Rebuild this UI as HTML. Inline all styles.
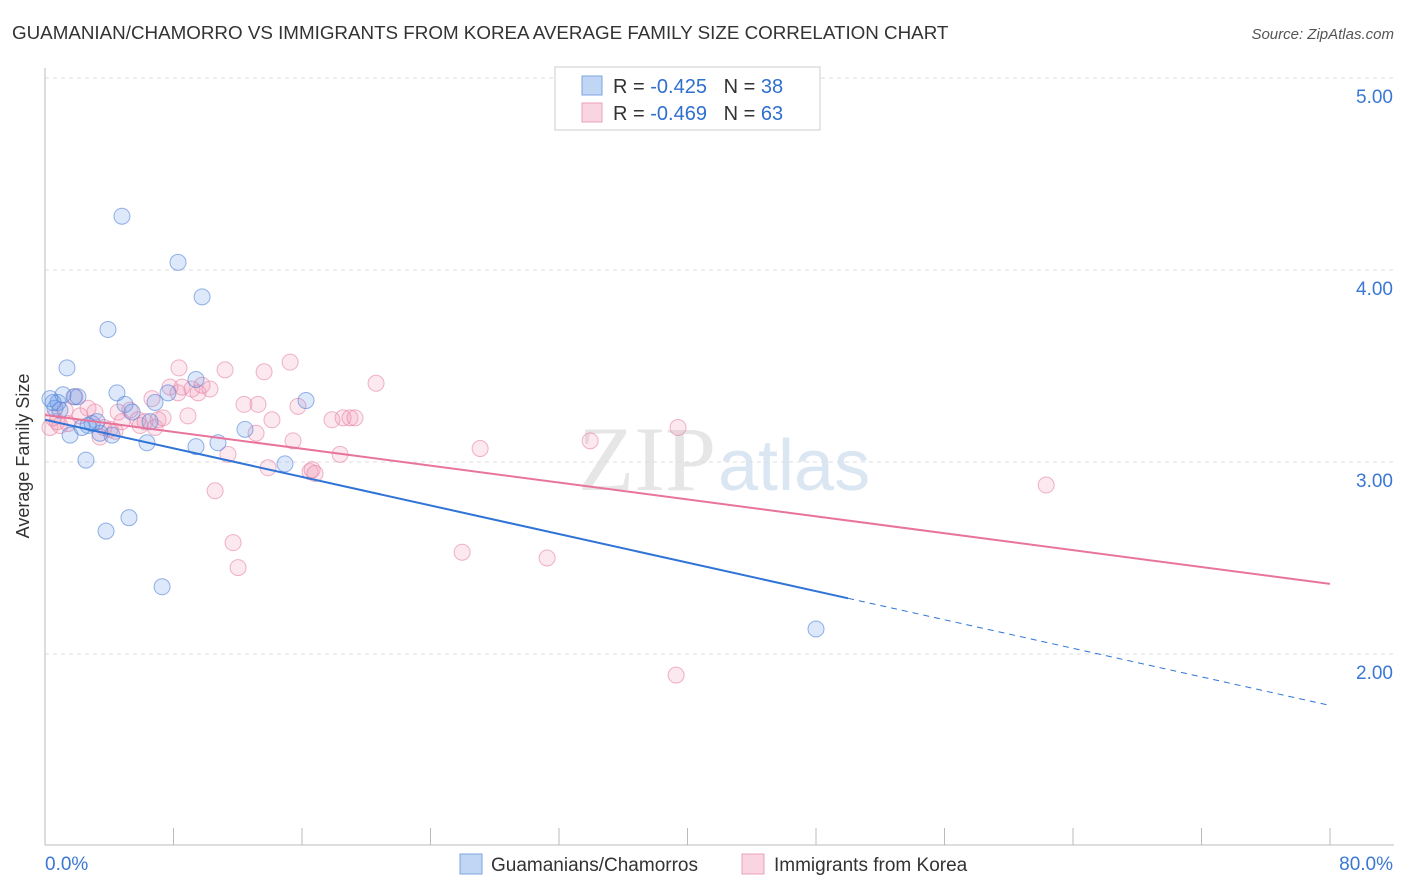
<!DOCTYPE html>
<html><head><meta charset="utf-8">
<style>
body{margin:0;background:#fff;font-family:"Liberation Sans",sans-serif;}
svg{display:block}
</style></head>
<body>
<svg id="chart" width="1406" height="892">
<text x="12" y="39" font-size="18.8" fill="#333">GUAMANIAN/CHAMORRO VS IMMIGRANTS FROM KOREA AVERAGE FAMILY SIZE CORRELATION CHART</text>
<text x="1394" y="39" font-size="15" fill="#555" font-style="italic" text-anchor="end">Source: ZipAtlas.com</text>
<text x="716" y="490" font-size="92" fill="#e6e6e6" text-anchor="end" font-family="Liberation Serif,serif">ZIP</text>
<text x="718" y="490" font-size="72" fill="#dbe6f3">atlas</text>
<g id="grid"></g>
<g id="axes"></g>
<g id="pts"></g>
<g id="trend"></g>
<text x="29" y="456" font-size="18" fill="#333" text-anchor="middle" transform="rotate(-90 29 456)">Average Family Size</text>
<g>
<rect x="555" y="67" width="265" height="63" fill="#fff" stroke="#ccc"/>
<rect x="582" y="76" width="20" height="19" fill="rgba(100,150,230,0.4)" stroke="#7aa6e0"/>
<rect x="582" y="103" width="20" height="19" fill="rgba(240,150,180,0.4)" stroke="#eea0b8"/>
<text x="613" y="93" font-size="20" fill="#333">R = <tspan fill="#2f6fd0">-0.425</tspan>&#160;&#160;&#160;N = <tspan fill="#2f6fd0">38</tspan></text>
<text x="613" y="120" font-size="20" fill="#333">R = <tspan fill="#2f6fd0">-0.469</tspan>&#160;&#160;&#160;N = <tspan fill="#2f6fd0">63</tspan></text>
</g>
<g>
<rect x="460" y="854" width="22" height="20" fill="rgba(100,150,230,0.4)" stroke="#7aa6e0"/>
<text x="491" y="871" font-size="19" fill="#333">Guamanians/Chamorros</text>
<rect x="742" y="854" width="22" height="20" fill="rgba(240,150,180,0.4)" stroke="#eea0b8"/>
<text x="774" y="871" font-size="19" fill="#333">Immigrants from Korea</text>
</g>
</svg>
<script>
const yTicks=[2,3,4,5];
const yTickLabels=["2.00","3.00","4.00","5.00"];
const xLabels=["0.0%","80.0%"];
const blueX=[0.31,0.62,0.81,1.12,1.56,1.81,2.05,1.37,2.30,2.55,2.93,3.24,3.42,3.80,3.92,4.17,4.48,4.79,4.98,5.23,5.42,6.35,6.54,6.85,7.29,7.66,8.28,9.40,9.40,9.78,10.77,12.45,14.94,16.25,48.0,0.93,0.50,2.68];
const blueY=[3.33,3.28,3.31,3.35,3.14,3.34,3.34,3.49,3.18,3.01,3.20,3.21,3.15,2.64,3.69,3.14,3.36,4.28,3.30,2.71,3.26,3.10,3.21,3.31,2.35,3.36,4.04,3.43,3.08,3.86,3.10,3.17,2.99,3.32,2.13,3.27,3.31,3.19];
const pinkX=[0.31,0.50,0.75,0.93,1.25,1.43,1.87,2.18,2.68,3.11,3.42,3.67,4.05,4.36,4.55,4.79,5.29,5.79,5.92,6.23,6.66,6.85,7.04,7.35,7.78,8.28,8.53,8.90,9.15,9.53,9.78,10.27,10.59,11.21,11.39,11.71,12.02,12.39,13.26,13.64,13.89,14.13,15.26,15.44,15.75,16.50,16.63,16.81,17.87,18.37,18.56,18.99,19.30,20.61,25.97,27.09,31.26,33.94,39.41,39.29,62.33,8.34,13.14];
const pinkY=[3.18,3.23,3.21,3.19,3.27,3.20,3.34,3.24,3.28,3.26,3.13,3.18,3.17,3.16,3.26,3.21,3.27,3.22,3.19,3.21,3.33,3.18,3.22,3.23,3.39,3.36,3.39,3.24,3.38,3.36,3.40,3.38,2.85,3.48,3.04,2.58,2.45,3.30,3.30,3.47,2.97,3.22,3.52,3.11,3.29,2.95,2.96,2.94,3.22,3.04,3.23,3.23,3.23,3.41,2.53,3.07,2.50,3.11,3.18,1.89,2.88,3.49,3.15];
const blueTrend=[3.22,-0.0186,50];
const pinkTrend=[3.245,-0.011];
const NS="http://www.w3.org/2000/svg";
const sx=v=>45+v*(1285/80);
const sy=v=>462-(v-3)*192;
function mk(tag,attrs,parent){const e=document.createElementNS(NS,tag);for(const k in attrs)e.setAttribute(k,attrs[k]);parent.appendChild(e);return e;}
const grid=document.getElementById('grid'),axes=document.getElementById('axes'),pts=document.getElementById('pts'),tr=document.getElementById('trend');
yTicks.forEach((t,i)=>{
 const l=mk('line',{x1:45,x2:1394,y1:sy(t),y2:sy(t),stroke:'#ddd','stroke-dasharray':'4,4'},grid);
 
 
 const tx=mk('text',{x:1393,y:sy(t)+25,'font-size':19,fill:'#3a78d4','text-anchor':'end'},axes);
 tx.textContent=yTickLabels[i];
 
 
});
mk('line',{x1:45,x2:45,y1:68,y2:845,stroke:'#bbb'},axes);
mk('line',{x1:45,x2:1394,y1:845,y2:845,stroke:'#bbb'},axes);
for(let i=0;i<=10;i++){const x=sx(i*8);const t=mk('line',{x1:x,x2:x,y1:828,y2:845,stroke:'#bbb'},axes);
 
 }
const xl0=mk('text',{x:45,y:870,'font-size':19,fill:'#3a78d4'},axes);xl0.textContent=xLabels[0];


const xl1=mk('text',{x:1393,y:870,'font-size':19,fill:'#3a78d4','text-anchor':'end'},axes);xl1.textContent=xLabels[1];


pinkX.forEach((x,i)=>{const c=mk('circle',{cx:sx(x),cy:sy(pinkY[i]),r:8,fill:'rgba(240,150,180,0.22)',stroke:'rgba(230,130,165,0.6)','stroke-width':1},pts);
 
 });
blueX.forEach((x,i)=>{const c=mk('circle',{cx:sx(x),cy:sy(blueY[i]),r:8,fill:'rgba(100,150,230,0.22)',stroke:'rgba(80,130,215,0.6)','stroke-width':1},pts);
 
 });
const bf=v=>blueTrend[0]+blueTrend[1]*v, pf=v=>pinkTrend[0]+pinkTrend[1]*v;
const b1=mk('line',{x1:sx(0),y1:sy(bf(0)),x2:sx(blueTrend[2]),y2:sy(bf(blueTrend[2])),stroke:'#2f74d6','stroke-width':2},tr);


const b2=mk('line',{x1:sx(blueTrend[2]),y1:sy(bf(blueTrend[2])),x2:sx(80),y2:sy(bf(80)),stroke:'#2f74d6','stroke-width':1,'stroke-dasharray':'6,5'},tr);


const p1=mk('line',{x1:sx(0),y1:sy(pf(0)),x2:sx(80),y2:sy(pf(80)),stroke:'#e8749c','stroke-width':2},tr);


</script>
</body></html>
